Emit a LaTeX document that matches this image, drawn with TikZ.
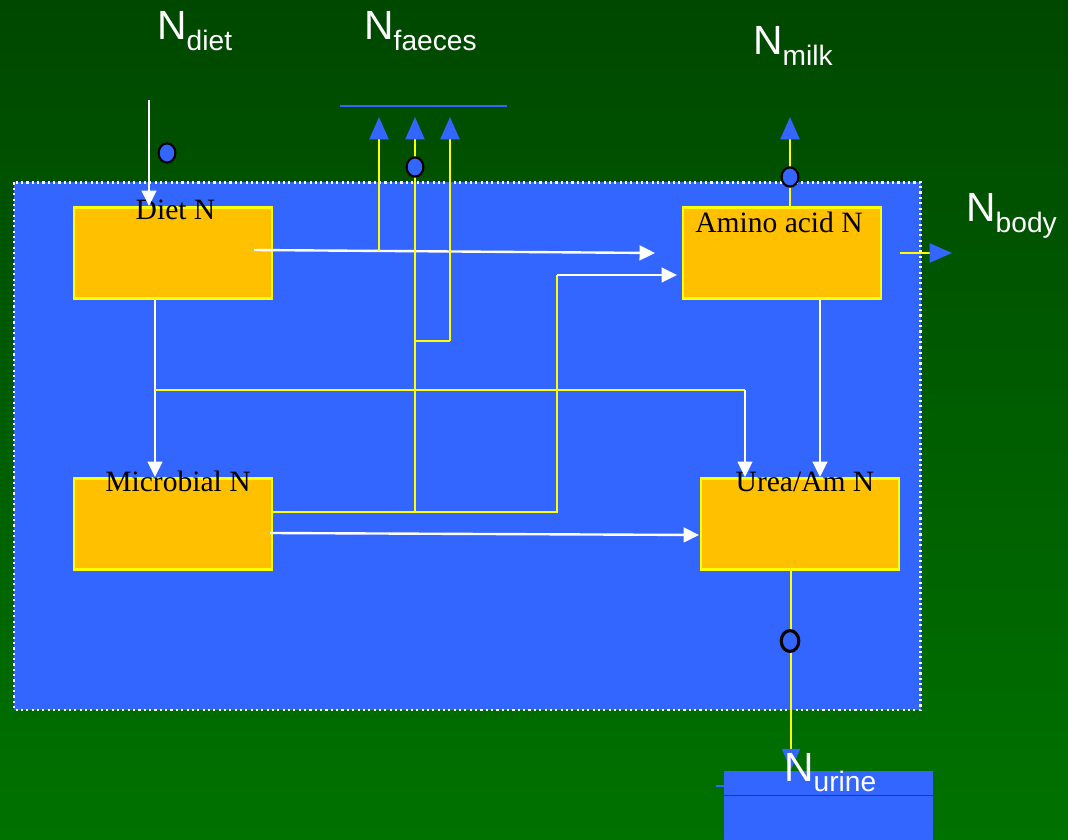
\documentclass[tikz,border=0pt]{standalone}
\usepackage{fontspec}
\setmainfont{Liberation Serif}
\newfontfamily\fluxfont{Liberation Sans}
\usetikzlibrary{arrows.meta,shapes.geometric}

\definecolor{sysblue}{RGB}{51,102,255}
\definecolor{poolgold}{RGB}{255,192,0}
\definecolor{linkyellow}{RGB}{255,255,0}
\definecolor{bgtop}{RGB}{0,72,0}
\definecolor{bgbottom}{RGB}{0,114,0}

\newcommand{\flowname}[1]{{\fluxfont\fontsize{29}{29}\selectfont
    N\raisebox{-7.5pt}{\fontsize{20}{20}\selectfont #1}}}

\tikzset{
  pool/.style={draw=linkyellow, fill=poolgold, line width=2pt,
    minimum width=4.95cm, minimum height=2.28cm, inner sep=0pt},
  poolname/.style={font=\fontsize{21}{21}\selectfont, anchor=base, inner sep=0pt},
  fluxname/.style={text=white, anchor=base west, inner sep=0pt},
  flow/.style={white, line width=1.7pt, -{Triangle[length=11pt,width=10.5pt]}},
  feed/.style={linkyellow, line width=1.9pt},
  outflow/.style={linkyellow, line width=1.9pt,
    -{Triangle[length=16pt,width=13.5pt,color=sysblue]}},
  gate/.style={ellipse, draw=black, fill=sysblue, line width=1.5pt,
    minimum width=0.42cm, minimum height=0.48cm, inner sep=0pt},
  ring/.style={ellipse, draw=black, fill=sysblue, line width=2.2pt,
    minimum width=0.44cm, minimum height=0.52cm, inner sep=0pt},
}

\begin{document}
\begin{tikzpicture}[x=0.025cm, y=-0.025cm]
  \useasboundingbox (0,0) rectangle (1068,840);
  \shade[top color=bgtop, bottom color=bgbottom] (0,0) rectangle (1068,840);

  % the animal
  \draw[white, fill=sysblue, line width=1.5pt, dash pattern=on 1.5pt off 2.3pt]
    (14,182.5) rectangle (920.5,710);

  % faeces and urine sinks
  \draw[sysblue, line width=1.5pt] (340,106) -- (507,106);
  \fill[sysblue] (724,771) rectangle (933,840);
  \draw[sysblue, line width=1.5pt] (716,786) -- (724,786);
  \draw[bgbottom!90!black, line width=0.7pt] (724,795) -- (933,795);

  % pools
  \node[pool] (diet) at (173,253) {};
  \node[pool] (amino) at (782,253) {};
  \node[pool] (microbial) at (173,524) {};
  \node[pool] (urea) at (800,524) {};

  \node[poolname] (dietname) at (175.5,220) {Diet N};
  \node[poolname] (aminoname) at (779,233) {Amino acid N};
  \node[poolname] (microbialname) at (178,491.5) {Microbial N};
  \node[poolname] (ureaname) at (805,491.5) {Urea/Am N};

  % points where the flows turn
  \coordinate (dietsrc) at (149,100);
  \coordinate (dietout) at (254,250);
  \coordinate (aminoslot) at (655,253);
  \coordinate (dietjoin) at (155,390);
  \coordinate (ureabend) at (745,390);
  \coordinate (aminodrop) at (820,300);
  \coordinate (mixout) at (272,512);
  \coordinate (mixturn) at (557,512);
  \coordinate (mixtop) at (557,275);
  \coordinate (aminoin) at (677,275);
  \coordinate (microbeout) at (270,533);
  \coordinate (ureain) at (699,535);
  \coordinate (faecestip) at (0,117);
  \coordinate (faecesA) at (379,251);
  \coordinate (faecesB) at (415,512);
  \coordinate (faecesfork) at (415,341);
  \coordinate (faecesC) at (450,341);
  \coordinate (milktip) at (790,117);
  \coordinate (bodysrc) at (900,253);
  \coordinate (bodytip) at (952,253);
  \coordinate (urinetip) at (791,770);

  % white flows
  \draw[flow] (dietsrc) -- (dietsrc |- diet.north);
  \draw[flow] (dietout) -- (aminoslot);
  \draw[flow] (diet.south -| dietjoin) -- (microbial.north -| dietjoin);
  \draw[feed] (dietjoin) -- (ureabend);
  \draw[flow] (ureabend) -- (urea.north -| ureabend);
  \draw[flow] (aminodrop) -- (urea.north -| aminodrop);
  \draw[feed] (mixout) -- (mixturn) -- (mixtop);
  \draw[flow] (mixtop) -- (aminoin);
  \draw[flow] (microbeout) -- (ureain);

  % losses
  \draw[outflow] (faecesA) -- (faecesA |- faecestip);
  \draw[outflow] (faecesB) -- (faecesB |- faecestip);
  \draw[feed] (faecesfork) -- (faecesC);
  \draw[outflow] (faecesC) -- (faecesC |- faecestip);
  \draw[outflow] (amino.north -| milktip) -- (milktip);
  \draw[outflow] (bodysrc) -- (bodytip);
  \draw[linkyellow, line width=1.9pt,
    -{Triangle[length=15pt,width=12.5pt,color=sysblue]}]
    (urea.south -| urinetip) -- (urinetip);

  \node[gate] (dietgate) at (167,153) {};
  \node[gate] (faecesgate) at (415,167) {};
  \node[gate] (milkgate) at (790,177) {};
  \node[ring] (urinegate) at (790,641) {};

  \node[fluxname] (ndiet) at (157,40) {\flowname{diet}};
  \node[fluxname] (nfaeces) at (364,39.5) {\flowname{faeces}};
  \node[fluxname] (nmilk) at (753,55) {\flowname{milk}};
  \node[fluxname] (nbody) at (966,222) {\flowname{body}};
  \node[fluxname] (nurine) at (784,781) {\flowname{urine}};
\end{tikzpicture}
\end{document}
